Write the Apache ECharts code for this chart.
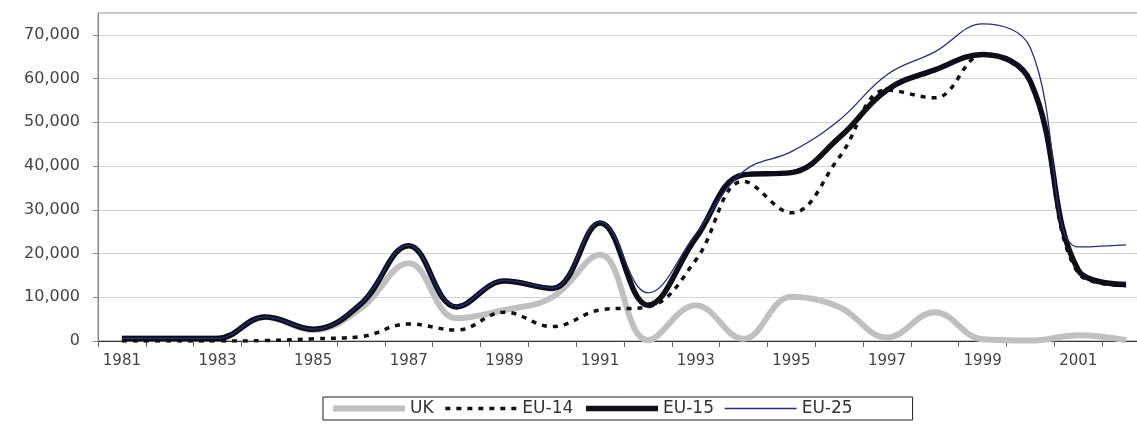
<!DOCTYPE html>
<html><head><meta charset="utf-8">
<script src="https://cdn.jsdelivr.net/npm/echarts@6/dist/echarts.min.js"></script>
<style>html,body{margin:0;padding:0;background:#fff}#c{width:1137px;height:425px}</style>
</head><body><div id="c"></div>
<script>
const years = ['1981','1982','1983','1984','1985','1986','1987','1988','1989','1990','1991','1992','1993','1994','1995','1996','1997','1998','1999','2000','2001','2002'];
const uk   = [600,600,600,5500,2500,7500,17800,5200,7100,10000,19700,200,8200,500,10100,7800,800,6600,400,100,1300,200];
const eu14 = [0,0,0,100,500,1000,3900,2500,6600,3300,7100,7800,18500,36500,29300,42000,57400,55600,65400,59000,15500,12700];
const eu15 = [600,600,600,5500,2700,8500,21800,7800,13700,12000,27000,8200,23500,38000,38500,46500,57400,62000,65500,59300,16200,12900];
const eu25 = [600,600,600,5500,2700,8600,21900,7900,13800,12100,27200,11000,24500,38800,43300,50500,60900,66100,72500,67000,21500,22000];
const yMax = 75000, yStep = 10000;

const font = '"DejaVu Sans", Verdana, sans-serif';
const fmt = v => String(v).replace(/\B(?=(\d{3})+(?!\d))/g, ',');

const styles = {
  'UK':    {color:'#c0c0c0', width:6, type:'solid'},
  'EU-14': {color:'#111111', width:3.5, type:[5,6]},
  'EU-15': {color:'#0e0e18', width:5.5, type:'solid'},
  'EU-25': {color:'#2b2b7a', width:1.3, type:'solid'}
};
const seriesData = {'UK':uk,'EU-14':eu14,'EU-15':eu15,'EU-25':eu25};

const chart = echarts.init(document.getElementById('c'), null, {renderer:'canvas'});
chart.setOption({
  animation:false,
  backgroundColor:'#fff',
  grid:{left:98, top:13, width:1052, height:328, outerBoundsMode:'none', containLabel:false, show:true, borderColor:'#888', borderWidth:1, backgroundColor:'#fff'},
  xAxis:{
    type:'category', data:years, boundaryGap:true,
    axisLine:{lineStyle:{color:'#333', width:1}},
    axisTick:{show:true, interval:0, length:6, lineStyle:{color:'#666'}},
    axisLabel:{interval:1, margin:13, fontSize:15, color:'#444', fontFamily:font}
  },
  yAxis:{
    type:'value', min:0, max:yMax, interval:yStep,
    axisLine:{show:true, lineStyle:{color:'#888'}},
    axisTick:{show:true, length:5, lineStyle:{color:'#888'}},
    splitLine:{lineStyle:{color:'#d2d2d2'}},
    axisLabel:{showMaxLabel:false, margin:18, fontSize:16, color:'#444', fontFamily:font, formatter:fmt}
  },
  legend:{
    left:323, top:397, orient:'horizontal',
    borderColor:'#222', borderWidth:1, borderRadius:0, padding:[3,60,3,7],
    itemWidth:72, itemHeight:14, itemGap:10,
    textStyle:{fontSize:17, color:'#333', fontFamily:font},
    data:Object.keys(styles).map(n => ({name:n, itemStyle:{opacity:0}, lineStyle:{color:styles[n].color, width:styles[n].width, type:styles[n].type}}))
  },
  series:Object.keys(styles).map(n => ({
    name:n, type:'line', smooth:0.4, symbol:'none', data:seriesData[n],
    lineStyle:{color:styles[n].color, width:styles[n].width, type:styles[n].type, cap:'butt', join:'round'},
    itemStyle:{color:styles[n].color}
  }))
});
</script></body></html>
